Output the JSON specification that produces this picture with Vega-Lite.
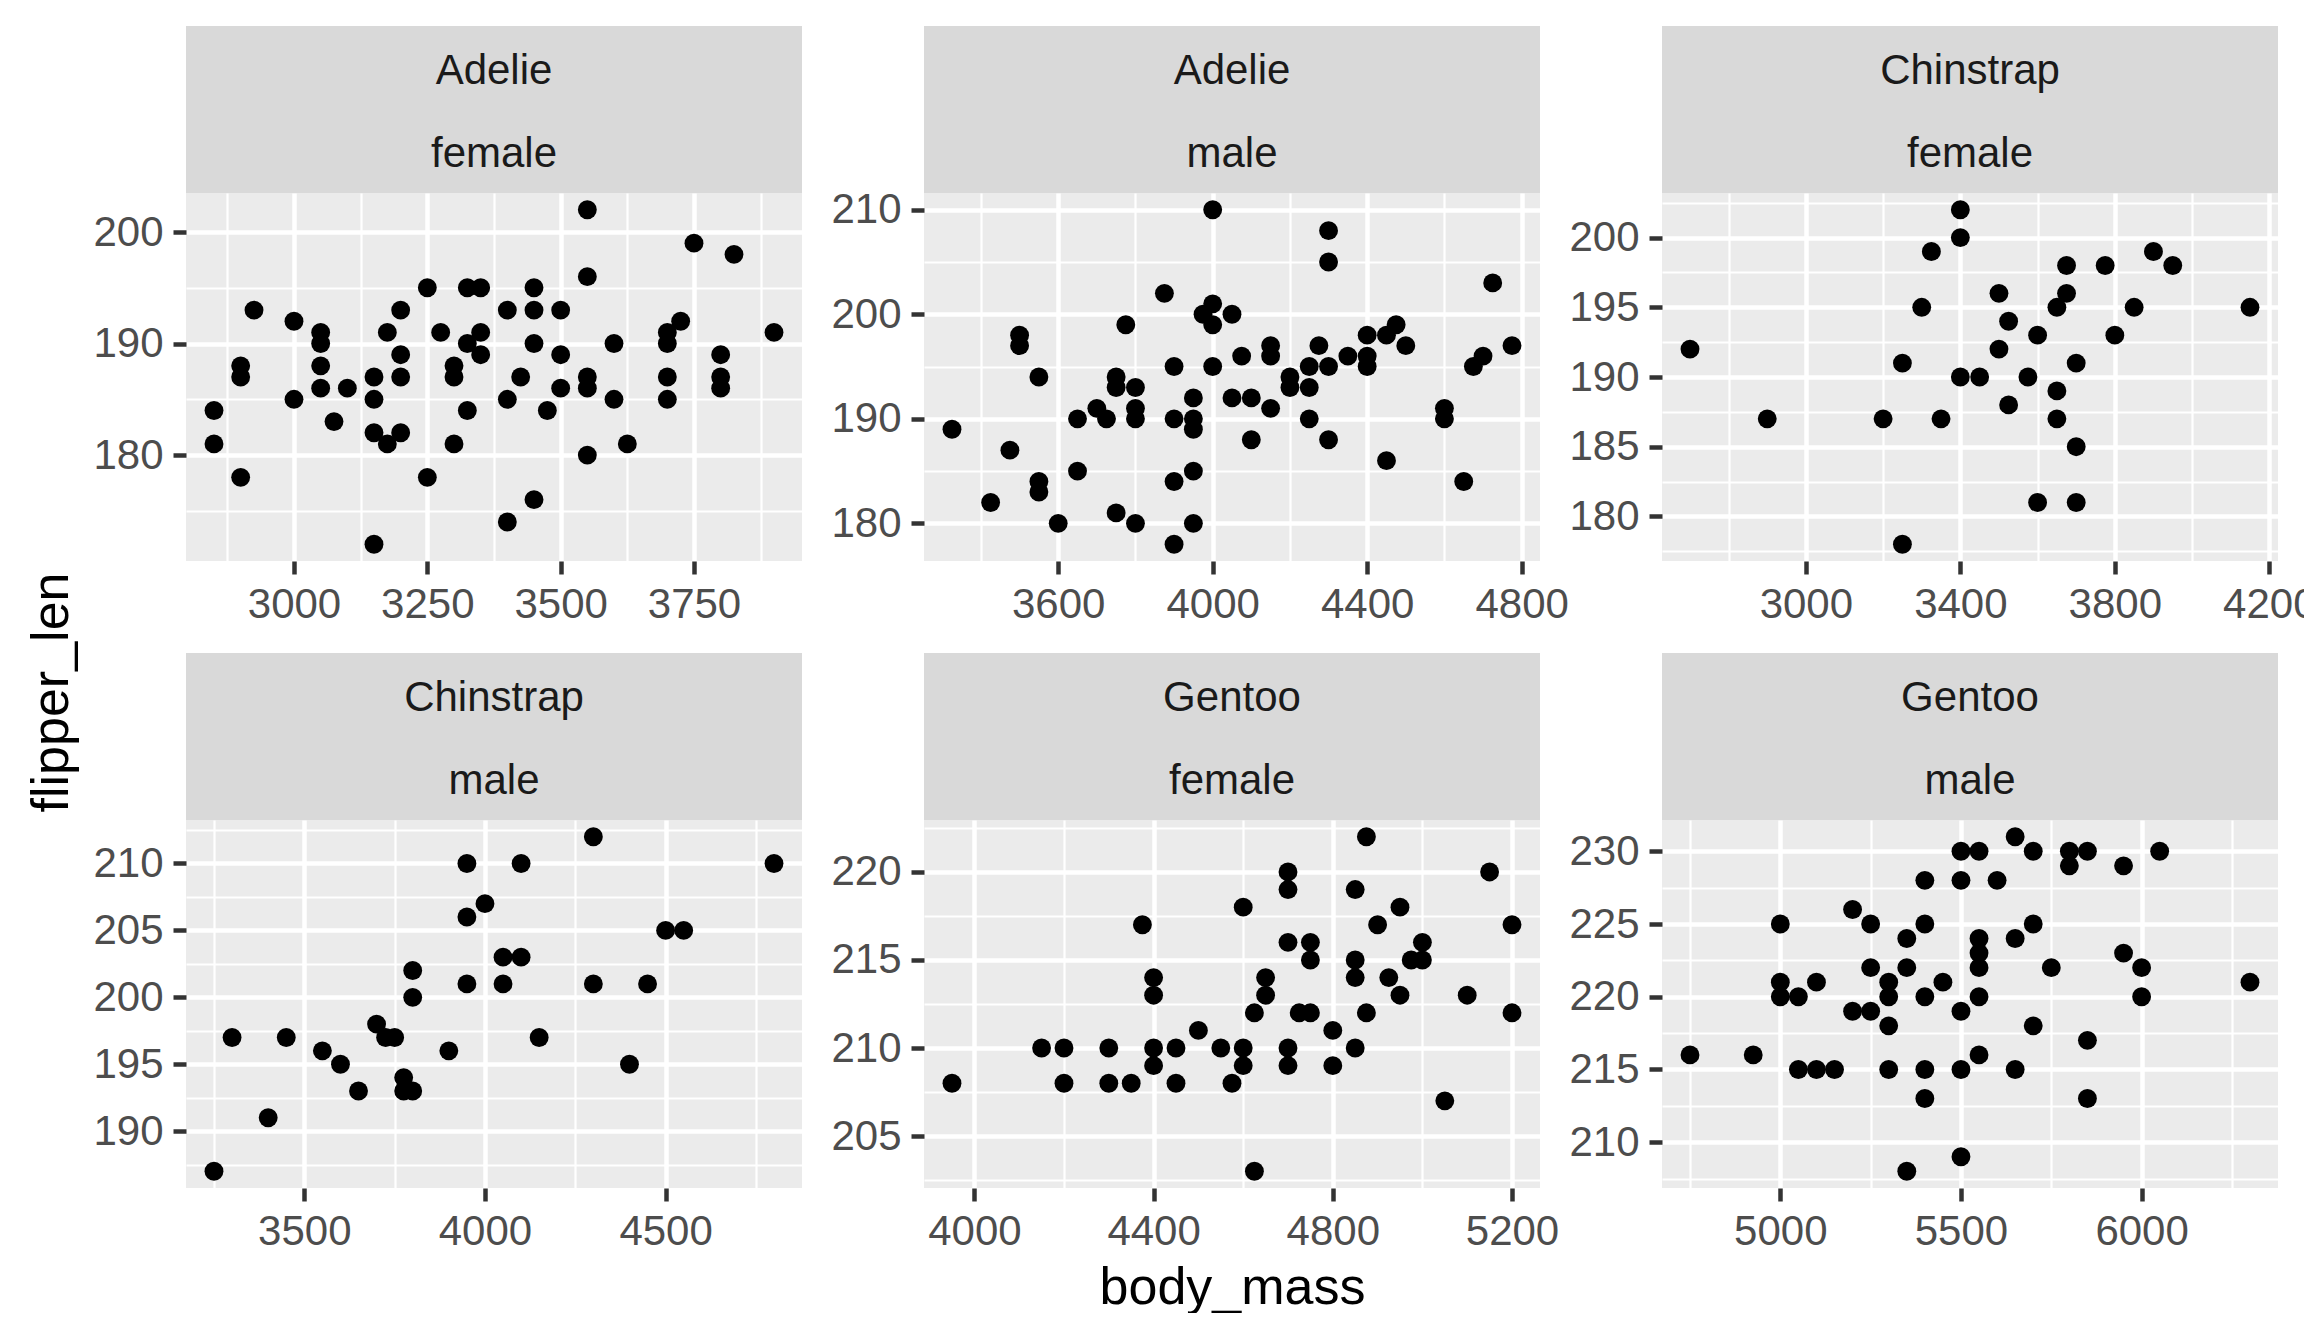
{
  "$schema": "https://vega.github.io/schema/vega-lite/v6.json",
  "description": "Penguins: flipper_len vs body_mass, faceted by species and sex (ggplot-style)",
  "background": "white",
  "padding": {"left": 25, "top": 26, "right": 0, "bottom": 0},
  "config": {
    "view": {"stroke": null},
    "font": "Liberation Sans",
    "axis": {
      "domain": false,
      "grid": true,
      "gridColor": "white",
      "tickColor": "#333333",
      "tickSize": 13,
      "tickWidth": 4.5,
      "labelColor": "#4d4d4d",
      "labelFont": "Liberation Sans",
      "labelFontSize": 42,
      "labelPadding": 10,
      "labelOverlap": false,
      "labelFlush": false,
      "labelBound": false,
      "titleFont": "Liberation Sans",
      "titleFontSize": 52,
      "titleFontWeight": "normal",
      "titleColor": "black"
    }
  },
  "datasets": {
    "adelie_female": [
      {"body_mass": 2850, "flipper_len": 184}, {"body_mass": 2850, "flipper_len": 181}, {"body_mass": 2900, "flipper_len": 188},
      {"body_mass": 2900, "flipper_len": 187}, {"body_mass": 2900, "flipper_len": 178}, {"body_mass": 2925, "flipper_len": 193},
      {"body_mass": 3000, "flipper_len": 192}, {"body_mass": 3000, "flipper_len": 185}, {"body_mass": 3050, "flipper_len": 191},
      {"body_mass": 3050, "flipper_len": 190}, {"body_mass": 3050, "flipper_len": 188}, {"body_mass": 3050, "flipper_len": 186},
      {"body_mass": 3075, "flipper_len": 183}, {"body_mass": 3100, "flipper_len": 186}, {"body_mass": 3150, "flipper_len": 187},
      {"body_mass": 3150, "flipper_len": 185}, {"body_mass": 3150, "flipper_len": 182}, {"body_mass": 3150, "flipper_len": 172},
      {"body_mass": 3175, "flipper_len": 191}, {"body_mass": 3175, "flipper_len": 181}, {"body_mass": 3200, "flipper_len": 193},
      {"body_mass": 3200, "flipper_len": 189}, {"body_mass": 3200, "flipper_len": 187}, {"body_mass": 3200, "flipper_len": 182},
      {"body_mass": 3250, "flipper_len": 195}, {"body_mass": 3250, "flipper_len": 178}, {"body_mass": 3275, "flipper_len": 191},
      {"body_mass": 3300, "flipper_len": 188}, {"body_mass": 3300, "flipper_len": 187}, {"body_mass": 3300, "flipper_len": 181},
      {"body_mass": 3325, "flipper_len": 195}, {"body_mass": 3325, "flipper_len": 190}, {"body_mass": 3325, "flipper_len": 184},
      {"body_mass": 3350, "flipper_len": 195}, {"body_mass": 3350, "flipper_len": 191}, {"body_mass": 3350, "flipper_len": 189},
      {"body_mass": 3400, "flipper_len": 193}, {"body_mass": 3400, "flipper_len": 185}, {"body_mass": 3400, "flipper_len": 174},
      {"body_mass": 3425, "flipper_len": 187}, {"body_mass": 3450, "flipper_len": 195}, {"body_mass": 3450, "flipper_len": 193},
      {"body_mass": 3450, "flipper_len": 190}, {"body_mass": 3450, "flipper_len": 176}, {"body_mass": 3475, "flipper_len": 184},
      {"body_mass": 3500, "flipper_len": 193}, {"body_mass": 3500, "flipper_len": 189}, {"body_mass": 3500, "flipper_len": 186},
      {"body_mass": 3550, "flipper_len": 202}, {"body_mass": 3550, "flipper_len": 196}, {"body_mass": 3550, "flipper_len": 187},
      {"body_mass": 3550, "flipper_len": 186}, {"body_mass": 3550, "flipper_len": 180}, {"body_mass": 3600, "flipper_len": 190},
      {"body_mass": 3600, "flipper_len": 185}, {"body_mass": 3625, "flipper_len": 181}, {"body_mass": 3700, "flipper_len": 191},
      {"body_mass": 3700, "flipper_len": 190}, {"body_mass": 3700, "flipper_len": 187}, {"body_mass": 3700, "flipper_len": 185},
      {"body_mass": 3725, "flipper_len": 192}, {"body_mass": 3750, "flipper_len": 199}, {"body_mass": 3800, "flipper_len": 189},
      {"body_mass": 3800, "flipper_len": 187}, {"body_mass": 3800, "flipper_len": 186}, {"body_mass": 3825, "flipper_len": 198},
      {"body_mass": 3900, "flipper_len": 191}
    ],
    "adelie_male": [
      {"body_mass": 3325, "flipper_len": 189}, {"body_mass": 3425, "flipper_len": 182}, {"body_mass": 3475, "flipper_len": 187},
      {"body_mass": 3500, "flipper_len": 198}, {"body_mass": 3500, "flipper_len": 197}, {"body_mass": 3550, "flipper_len": 194},
      {"body_mass": 3550, "flipper_len": 184}, {"body_mass": 3550, "flipper_len": 183}, {"body_mass": 3600, "flipper_len": 180},
      {"body_mass": 3650, "flipper_len": 190}, {"body_mass": 3650, "flipper_len": 185}, {"body_mass": 3700, "flipper_len": 191},
      {"body_mass": 3725, "flipper_len": 190}, {"body_mass": 3750, "flipper_len": 194}, {"body_mass": 3750, "flipper_len": 193},
      {"body_mass": 3750, "flipper_len": 181}, {"body_mass": 3775, "flipper_len": 199}, {"body_mass": 3800, "flipper_len": 193},
      {"body_mass": 3800, "flipper_len": 191}, {"body_mass": 3800, "flipper_len": 190}, {"body_mass": 3800, "flipper_len": 180},
      {"body_mass": 3875, "flipper_len": 202}, {"body_mass": 3900, "flipper_len": 195}, {"body_mass": 3900, "flipper_len": 190},
      {"body_mass": 3900, "flipper_len": 184}, {"body_mass": 3900, "flipper_len": 178}, {"body_mass": 3950, "flipper_len": 192},
      {"body_mass": 3950, "flipper_len": 190}, {"body_mass": 3950, "flipper_len": 189}, {"body_mass": 3950, "flipper_len": 185},
      {"body_mass": 3950, "flipper_len": 180}, {"body_mass": 3975, "flipper_len": 200}, {"body_mass": 4000, "flipper_len": 210},
      {"body_mass": 4000, "flipper_len": 201}, {"body_mass": 4000, "flipper_len": 199}, {"body_mass": 4000, "flipper_len": 195},
      {"body_mass": 4050, "flipper_len": 200}, {"body_mass": 4050, "flipper_len": 192}, {"body_mass": 4075, "flipper_len": 196},
      {"body_mass": 4100, "flipper_len": 192}, {"body_mass": 4100, "flipper_len": 188}, {"body_mass": 4150, "flipper_len": 197},
      {"body_mass": 4150, "flipper_len": 196}, {"body_mass": 4150, "flipper_len": 191}, {"body_mass": 4200, "flipper_len": 194},
      {"body_mass": 4200, "flipper_len": 193}, {"body_mass": 4250, "flipper_len": 195}, {"body_mass": 4250, "flipper_len": 193},
      {"body_mass": 4250, "flipper_len": 190}, {"body_mass": 4275, "flipper_len": 197}, {"body_mass": 4300, "flipper_len": 208},
      {"body_mass": 4300, "flipper_len": 205}, {"body_mass": 4300, "flipper_len": 195}, {"body_mass": 4300, "flipper_len": 188},
      {"body_mass": 4350, "flipper_len": 196}, {"body_mass": 4400, "flipper_len": 198}, {"body_mass": 4400, "flipper_len": 196},
      {"body_mass": 4400, "flipper_len": 195}, {"body_mass": 4450, "flipper_len": 198}, {"body_mass": 4450, "flipper_len": 186},
      {"body_mass": 4475, "flipper_len": 199}, {"body_mass": 4500, "flipper_len": 197}, {"body_mass": 4600, "flipper_len": 191},
      {"body_mass": 4600, "flipper_len": 190}, {"body_mass": 4650, "flipper_len": 184}, {"body_mass": 4675, "flipper_len": 195},
      {"body_mass": 4700, "flipper_len": 196}, {"body_mass": 4725, "flipper_len": 203}, {"body_mass": 4775, "flipper_len": 197}
    ],
    "chinstrap_female": [
      {"body_mass": 2700, "flipper_len": 192}, {"body_mass": 2900, "flipper_len": 187}, {"body_mass": 3200, "flipper_len": 187},
      {"body_mass": 3250, "flipper_len": 191}, {"body_mass": 3250, "flipper_len": 178}, {"body_mass": 3300, "flipper_len": 195},
      {"body_mass": 3325, "flipper_len": 199}, {"body_mass": 3350, "flipper_len": 187}, {"body_mass": 3400, "flipper_len": 202},
      {"body_mass": 3400, "flipper_len": 200}, {"body_mass": 3400, "flipper_len": 190}, {"body_mass": 3450, "flipper_len": 190},
      {"body_mass": 3500, "flipper_len": 196}, {"body_mass": 3500, "flipper_len": 192}, {"body_mass": 3525, "flipper_len": 194},
      {"body_mass": 3525, "flipper_len": 188}, {"body_mass": 3575, "flipper_len": 190}, {"body_mass": 3600, "flipper_len": 193},
      {"body_mass": 3600, "flipper_len": 181}, {"body_mass": 3650, "flipper_len": 195}, {"body_mass": 3650, "flipper_len": 189},
      {"body_mass": 3650, "flipper_len": 187}, {"body_mass": 3675, "flipper_len": 198}, {"body_mass": 3675, "flipper_len": 196},
      {"body_mass": 3700, "flipper_len": 191}, {"body_mass": 3700, "flipper_len": 185}, {"body_mass": 3700, "flipper_len": 181},
      {"body_mass": 3775, "flipper_len": 198}, {"body_mass": 3800, "flipper_len": 193}, {"body_mass": 3850, "flipper_len": 195},
      {"body_mass": 3900, "flipper_len": 199}, {"body_mass": 3950, "flipper_len": 198}, {"body_mass": 4150, "flipper_len": 195}
    ],
    "chinstrap_male": [
      {"body_mass": 3250, "flipper_len": 187}, {"body_mass": 3300, "flipper_len": 197}, {"body_mass": 3400, "flipper_len": 191},
      {"body_mass": 3450, "flipper_len": 197}, {"body_mass": 3550, "flipper_len": 196}, {"body_mass": 3600, "flipper_len": 195},
      {"body_mass": 3650, "flipper_len": 193}, {"body_mass": 3700, "flipper_len": 198}, {"body_mass": 3725, "flipper_len": 197},
      {"body_mass": 3750, "flipper_len": 197}, {"body_mass": 3775, "flipper_len": 194}, {"body_mass": 3775, "flipper_len": 193},
      {"body_mass": 3800, "flipper_len": 193}, {"body_mass": 3800, "flipper_len": 202}, {"body_mass": 3800, "flipper_len": 200},
      {"body_mass": 3900, "flipper_len": 196}, {"body_mass": 3950, "flipper_len": 210}, {"body_mass": 3950, "flipper_len": 206},
      {"body_mass": 3950, "flipper_len": 201}, {"body_mass": 4000, "flipper_len": 207}, {"body_mass": 4050, "flipper_len": 203},
      {"body_mass": 4050, "flipper_len": 201}, {"body_mass": 4100, "flipper_len": 210}, {"body_mass": 4100, "flipper_len": 203},
      {"body_mass": 4150, "flipper_len": 197}, {"body_mass": 4300, "flipper_len": 212}, {"body_mass": 4300, "flipper_len": 201},
      {"body_mass": 4400, "flipper_len": 195}, {"body_mass": 4450, "flipper_len": 201}, {"body_mass": 4500, "flipper_len": 205},
      {"body_mass": 4550, "flipper_len": 205}, {"body_mass": 4800, "flipper_len": 210}
    ],
    "gentoo_female": [
      {"body_mass": 3950, "flipper_len": 208}, {"body_mass": 4150, "flipper_len": 210}, {"body_mass": 4200, "flipper_len": 210},
      {"body_mass": 4200, "flipper_len": 208}, {"body_mass": 4300, "flipper_len": 210}, {"body_mass": 4300, "flipper_len": 208},
      {"body_mass": 4350, "flipper_len": 208}, {"body_mass": 4375, "flipper_len": 217}, {"body_mass": 4400, "flipper_len": 214},
      {"body_mass": 4400, "flipper_len": 213}, {"body_mass": 4400, "flipper_len": 210}, {"body_mass": 4400, "flipper_len": 209},
      {"body_mass": 4450, "flipper_len": 210}, {"body_mass": 4450, "flipper_len": 208}, {"body_mass": 4500, "flipper_len": 211},
      {"body_mass": 4550, "flipper_len": 210}, {"body_mass": 4575, "flipper_len": 208}, {"body_mass": 4600, "flipper_len": 218},
      {"body_mass": 4600, "flipper_len": 210}, {"body_mass": 4600, "flipper_len": 209}, {"body_mass": 4625, "flipper_len": 212},
      {"body_mass": 4625, "flipper_len": 203}, {"body_mass": 4650, "flipper_len": 214}, {"body_mass": 4650, "flipper_len": 213},
      {"body_mass": 4700, "flipper_len": 220}, {"body_mass": 4700, "flipper_len": 219}, {"body_mass": 4700, "flipper_len": 216},
      {"body_mass": 4700, "flipper_len": 210}, {"body_mass": 4700, "flipper_len": 209}, {"body_mass": 4725, "flipper_len": 212},
      {"body_mass": 4750, "flipper_len": 216}, {"body_mass": 4750, "flipper_len": 215}, {"body_mass": 4750, "flipper_len": 212},
      {"body_mass": 4800, "flipper_len": 211}, {"body_mass": 4800, "flipper_len": 209}, {"body_mass": 4850, "flipper_len": 219},
      {"body_mass": 4850, "flipper_len": 215}, {"body_mass": 4850, "flipper_len": 214}, {"body_mass": 4850, "flipper_len": 210},
      {"body_mass": 4875, "flipper_len": 222}, {"body_mass": 4875, "flipper_len": 212}, {"body_mass": 4900, "flipper_len": 217},
      {"body_mass": 4925, "flipper_len": 214}, {"body_mass": 4950, "flipper_len": 218}, {"body_mass": 4950, "flipper_len": 213},
      {"body_mass": 4975, "flipper_len": 215}, {"body_mass": 5000, "flipper_len": 216}, {"body_mass": 5000, "flipper_len": 215},
      {"body_mass": 5050, "flipper_len": 207}, {"body_mass": 5100, "flipper_len": 213}, {"body_mass": 5150, "flipper_len": 220},
      {"body_mass": 5200, "flipper_len": 217}, {"body_mass": 5200, "flipper_len": 212}
    ],
    "gentoo_male": [
      {"body_mass": 4750, "flipper_len": 216}, {"body_mass": 4925, "flipper_len": 216}, {"body_mass": 5000, "flipper_len": 225},
      {"body_mass": 5000, "flipper_len": 221}, {"body_mass": 5000, "flipper_len": 220}, {"body_mass": 5050, "flipper_len": 220},
      {"body_mass": 5050, "flipper_len": 215}, {"body_mass": 5100, "flipper_len": 221}, {"body_mass": 5100, "flipper_len": 215},
      {"body_mass": 5150, "flipper_len": 215}, {"body_mass": 5200, "flipper_len": 226}, {"body_mass": 5200, "flipper_len": 219},
      {"body_mass": 5250, "flipper_len": 225}, {"body_mass": 5250, "flipper_len": 222}, {"body_mass": 5250, "flipper_len": 219},
      {"body_mass": 5300, "flipper_len": 221}, {"body_mass": 5300, "flipper_len": 220}, {"body_mass": 5300, "flipper_len": 218},
      {"body_mass": 5300, "flipper_len": 215}, {"body_mass": 5350, "flipper_len": 224}, {"body_mass": 5350, "flipper_len": 222},
      {"body_mass": 5350, "flipper_len": 208}, {"body_mass": 5400, "flipper_len": 228}, {"body_mass": 5400, "flipper_len": 225},
      {"body_mass": 5400, "flipper_len": 220}, {"body_mass": 5400, "flipper_len": 215}, {"body_mass": 5400, "flipper_len": 213},
      {"body_mass": 5450, "flipper_len": 221}, {"body_mass": 5500, "flipper_len": 230}, {"body_mass": 5500, "flipper_len": 228},
      {"body_mass": 5500, "flipper_len": 219}, {"body_mass": 5500, "flipper_len": 215}, {"body_mass": 5500, "flipper_len": 209},
      {"body_mass": 5550, "flipper_len": 230}, {"body_mass": 5550, "flipper_len": 224}, {"body_mass": 5550, "flipper_len": 223},
      {"body_mass": 5550, "flipper_len": 222}, {"body_mass": 5550, "flipper_len": 220}, {"body_mass": 5550, "flipper_len": 216},
      {"body_mass": 5600, "flipper_len": 228}, {"body_mass": 5650, "flipper_len": 231}, {"body_mass": 5650, "flipper_len": 224},
      {"body_mass": 5650, "flipper_len": 215}, {"body_mass": 5700, "flipper_len": 230}, {"body_mass": 5700, "flipper_len": 225},
      {"body_mass": 5700, "flipper_len": 218}, {"body_mass": 5750, "flipper_len": 222}, {"body_mass": 5800, "flipper_len": 230},
      {"body_mass": 5800, "flipper_len": 229}, {"body_mass": 5850, "flipper_len": 230}, {"body_mass": 5850, "flipper_len": 217},
      {"body_mass": 5850, "flipper_len": 213}, {"body_mass": 5950, "flipper_len": 229}, {"body_mass": 5950, "flipper_len": 223},
      {"body_mass": 6000, "flipper_len": 222}, {"body_mass": 6000, "flipper_len": 220}, {"body_mass": 6050, "flipper_len": 230},
      {"body_mass": 6300, "flipper_len": 221}
    ]
  },
  "bounds": "flush",
  "columns": 3,
  "spacing": {"row": 0, "column": 122},
  "concat": [
    {
      "width": 616, "height": 167, "view": {"fill": "#d9d9d9"},
      "data": {"values": [{"label": "Adelie", "line": 1}, {"label": "female", "line": 2}]},
      "mark": {"type": "text", "font": "Liberation Sans", "fontSize": 42, "color": "#1a1a1a", "baseline": "middle", "dy": 3},
      "encoding": {"y": {"field": "line", "type": "ordinal", "axis": null, "scale": {"type": "point", "padding": 0.5}}, "text": {"field": "label"}}
    },
    {
      "width": 616, "height": 167, "view": {"fill": "#d9d9d9"},
      "data": {"values": [{"label": "Adelie", "line": 1}, {"label": "male", "line": 2}]},
      "mark": {"type": "text", "font": "Liberation Sans", "fontSize": 42, "color": "#1a1a1a", "baseline": "middle", "dy": 3},
      "encoding": {"y": {"field": "line", "type": "ordinal", "axis": null, "scale": {"type": "point", "padding": 0.5}}, "text": {"field": "label"}}
    },
    {
      "width": 616, "height": 167, "view": {"fill": "#d9d9d9"},
      "data": {"values": [{"label": "Chinstrap", "line": 1}, {"label": "female", "line": 2}]},
      "mark": {"type": "text", "font": "Liberation Sans", "fontSize": 42, "color": "#1a1a1a", "baseline": "middle", "dy": 3},
      "encoding": {"y": {"field": "line", "type": "ordinal", "axis": null, "scale": {"type": "point", "padding": 0.5}}, "text": {"field": "label"}}
    },
    {
      "width": 616, "height": 368, "view": {"fill": "#ebebeb"},
      "data": {"name": "adelie_female"},
      "mark": {"type": "circle", "size": 356, "color": "black", "opacity": 1},
      "encoding": {
        "x": {"field": "body_mass", "type": "quantitative",
          "scale": {"domain": [2797.5, 3952.5], "nice": false, "zero": false},
          "axis": {"title": null, "format": "d", "values": [2875, 3000, 3125, 3250, 3375, 3500, 3625, 3750, 3875],
            "gridWidth": {"condition": {"test": "datum.value % 250 == 0", "value": 4.5}, "value": 2.2},
            "tickOpacity": {"condition": {"test": "datum.value % 250 == 0", "value": 1}, "value": 0},
            "labelOpacity": {"condition": {"test": "datum.value % 250 == 0", "value": 1}, "value": 0}}},
        "y": {"field": "flipper_len", "type": "quantitative",
          "scale": {"domain": [170.5, 203.5], "nice": false, "zero": false},
          "axis": {"title": null, "format": "d", "values": [175, 180, 185, 190, 195, 200],
            "gridWidth": {"condition": {"test": "datum.value % 10 == 0", "value": 4.5}, "value": 2.2},
            "tickOpacity": {"condition": {"test": "datum.value % 10 == 0", "value": 1}, "value": 0},
            "labelOpacity": {"condition": {"test": "datum.value % 10 == 0", "value": 1}, "value": 0}}}
      }
    },
    {
      "width": 616, "height": 368, "view": {"fill": "#ebebeb"},
      "data": {"name": "adelie_male"},
      "mark": {"type": "circle", "size": 356, "color": "black", "opacity": 1},
      "encoding": {
        "x": {"field": "body_mass", "type": "quantitative",
          "scale": {"domain": [3252.5, 4847.5], "nice": false, "zero": false},
          "axis": {"title": null, "format": "d", "values": [3400, 3600, 3800, 4000, 4200, 4400, 4600, 4800],
            "gridWidth": {"condition": {"test": "datum.value % 400 == 0", "value": 4.5}, "value": 2.2},
            "tickOpacity": {"condition": {"test": "datum.value % 400 == 0", "value": 1}, "value": 0},
            "labelOpacity": {"condition": {"test": "datum.value % 400 == 0", "value": 1}, "value": 0}}},
        "y": {"field": "flipper_len", "type": "quantitative",
          "scale": {"domain": [176.4, 211.6], "nice": false, "zero": false},
          "axis": {"title": null, "format": "d", "values": [180, 185, 190, 195, 200, 205, 210],
            "gridWidth": {"condition": {"test": "datum.value % 10 == 0", "value": 4.5}, "value": 2.2},
            "tickOpacity": {"condition": {"test": "datum.value % 10 == 0", "value": 1}, "value": 0},
            "labelOpacity": {"condition": {"test": "datum.value % 10 == 0", "value": 1}, "value": 0}}}
      }
    },
    {
      "width": 616, "height": 368, "view": {"fill": "#ebebeb"},
      "data": {"name": "chinstrap_female"},
      "mark": {"type": "circle", "size": 356, "color": "black", "opacity": 1},
      "encoding": {
        "x": {"field": "body_mass", "type": "quantitative",
          "scale": {"domain": [2627.5, 4222.5], "nice": false, "zero": false},
          "axis": {"title": null, "format": "d", "values": [2800, 3000, 3200, 3400, 3600, 3800, 4000, 4200],
            "gridWidth": {"condition": {"test": "(datum.value - 3000) % 400 == 0", "value": 4.5}, "value": 2.2},
            "tickOpacity": {"condition": {"test": "(datum.value - 3000) % 400 == 0", "value": 1}, "value": 0},
            "labelOpacity": {"condition": {"test": "(datum.value - 3000) % 400 == 0", "value": 1}, "value": 0}}},
        "y": {"field": "flipper_len", "type": "quantitative",
          "scale": {"domain": [176.8, 203.2], "nice": false, "zero": false},
          "axis": {"title": null, "format": "d", "values": [177.5, 180, 182.5, 185, 187.5, 190, 192.5, 195, 197.5, 200, 202.5],
            "gridWidth": {"condition": {"test": "datum.value % 5 == 0", "value": 4.5}, "value": 2.2},
            "tickOpacity": {"condition": {"test": "datum.value % 5 == 0", "value": 1}, "value": 0},
            "labelOpacity": {"condition": {"test": "datum.value % 5 == 0", "value": 1}, "value": 0}}}
      }
    },
    {"width": 616, "height": 92, "data": {"values": []}, "mark": "point"},
    {"width": 616, "height": 92, "data": {"values": []}, "mark": "point"},
    {"width": 616, "height": 92, "data": {"values": []}, "mark": "point"},
    {
      "width": 616, "height": 167, "view": {"fill": "#d9d9d9"},
      "data": {"values": [{"label": "Chinstrap", "line": 1}, {"label": "male", "line": 2}]},
      "mark": {"type": "text", "font": "Liberation Sans", "fontSize": 42, "color": "#1a1a1a", "baseline": "middle", "dy": 3},
      "encoding": {"y": {"field": "line", "type": "ordinal", "axis": null, "scale": {"type": "point", "padding": 0.5}}, "text": {"field": "label"}}
    },
    {
      "width": 616, "height": 167, "view": {"fill": "#d9d9d9"},
      "data": {"values": [{"label": "Gentoo", "line": 1}, {"label": "female", "line": 2}]},
      "mark": {"type": "text", "font": "Liberation Sans", "fontSize": 42, "color": "#1a1a1a", "baseline": "middle", "dy": 3},
      "encoding": {"y": {"field": "line", "type": "ordinal", "axis": null, "scale": {"type": "point", "padding": 0.5}}, "text": {"field": "label"}}
    },
    {
      "width": 616, "height": 167, "view": {"fill": "#d9d9d9"},
      "data": {"values": [{"label": "Gentoo", "line": 1}, {"label": "male", "line": 2}]},
      "mark": {"type": "text", "font": "Liberation Sans", "fontSize": 42, "color": "#1a1a1a", "baseline": "middle", "dy": 3},
      "encoding": {"y": {"field": "line", "type": "ordinal", "axis": null, "scale": {"type": "point", "padding": 0.5}}, "text": {"field": "label"}}
    },
    {
      "width": 616, "height": 368, "view": {"fill": "#ebebeb"},
      "data": {"name": "chinstrap_male"},
      "mark": {"type": "circle", "size": 356, "color": "black", "opacity": 1},
      "encoding": {
        "x": {"field": "body_mass", "type": "quantitative",
          "scale": {"domain": [3172.5, 4877.5], "nice": false, "zero": false},
          "axis": {"title": null, "format": "d", "values": [3250, 3500, 3750, 4000, 4250, 4500, 4750],
            "gridWidth": {"condition": {"test": "datum.value % 500 == 0", "value": 4.5}, "value": 2.2},
            "tickOpacity": {"condition": {"test": "datum.value % 500 == 0", "value": 1}, "value": 0},
            "labelOpacity": {"condition": {"test": "datum.value % 500 == 0", "value": 1}, "value": 0}}},
        "y": {"field": "flipper_len", "type": "quantitative",
          "scale": {"domain": [185.75, 213.25], "nice": false, "zero": false},
          "axis": {"title": "flipper_len", "format": "d", "values": [187.5, 190, 192.5, 195, 197.5, 200, 202.5, 205, 207.5, 210, 212.5],
            "titleX": -108, "titleY": -128, "titleAngle": 270, "titleBaseline": "bottom", "titleAlign": "center",
            "gridWidth": {"condition": {"test": "datum.value % 5 == 0", "value": 4.5}, "value": 2.2},
            "tickOpacity": {"condition": {"test": "datum.value % 5 == 0", "value": 1}, "value": 0},
            "labelOpacity": {"condition": {"test": "datum.value % 5 == 0", "value": 1}, "value": 0}}}
      }
    },
    {
      "width": 616, "height": 368, "view": {"fill": "#ebebeb"},
      "data": {"name": "gentoo_female"},
      "mark": {"type": "circle", "size": 356, "color": "black", "opacity": 1},
      "encoding": {
        "x": {"field": "body_mass", "type": "quantitative",
          "scale": {"domain": [3887.5, 5262.5], "nice": false, "zero": false},
          "axis": {"title": "body_mass", "titlePadding": 10, "format": "d", "values": [4000, 4200, 4400, 4600, 4800, 5000, 5200],
            "gridWidth": {"condition": {"test": "datum.value % 400 == 0", "value": 4.5}, "value": 2.2},
            "tickOpacity": {"condition": {"test": "datum.value % 400 == 0", "value": 1}, "value": 0},
            "labelOpacity": {"condition": {"test": "datum.value % 400 == 0", "value": 1}, "value": 0}}},
        "y": {"field": "flipper_len", "type": "quantitative",
          "scale": {"domain": [202.05, 222.95], "nice": false, "zero": false},
          "axis": {"title": null, "format": "d", "values": [202.5, 205, 207.5, 210, 212.5, 215, 217.5, 220, 222.5],
            "gridWidth": {"condition": {"test": "datum.value % 5 == 0", "value": 4.5}, "value": 2.2},
            "tickOpacity": {"condition": {"test": "datum.value % 5 == 0", "value": 1}, "value": 0},
            "labelOpacity": {"condition": {"test": "datum.value % 5 == 0", "value": 1}, "value": 0}}}
      }
    },
    {
      "width": 616, "height": 368, "view": {"fill": "#ebebeb"},
      "data": {"name": "gentoo_male"},
      "mark": {"type": "circle", "size": 356, "color": "black", "opacity": 1},
      "encoding": {
        "x": {"field": "body_mass", "type": "quantitative",
          "scale": {"domain": [4672.5, 6377.5], "nice": false, "zero": false},
          "axis": {"title": null, "format": "d", "values": [4750, 5000, 5250, 5500, 5750, 6000, 6250],
            "gridWidth": {"condition": {"test": "datum.value % 500 == 0", "value": 4.5}, "value": 2.2},
            "tickOpacity": {"condition": {"test": "datum.value % 500 == 0", "value": 1}, "value": 0},
            "labelOpacity": {"condition": {"test": "datum.value % 500 == 0", "value": 1}, "value": 0}}},
        "y": {"field": "flipper_len", "type": "quantitative",
          "scale": {"domain": [206.85, 232.15], "nice": false, "zero": false},
          "axis": {"title": null, "format": "d", "values": [207.5, 210, 212.5, 215, 217.5, 220, 222.5, 225, 227.5, 230],
            "gridWidth": {"condition": {"test": "datum.value % 5 == 0", "value": 4.5}, "value": 2.2},
            "tickOpacity": {"condition": {"test": "datum.value % 5 == 0", "value": 1}, "value": 0},
            "labelOpacity": {"condition": {"test": "datum.value % 5 == 0", "value": 1}, "value": 0}}}
      }
    }
  ]
}
